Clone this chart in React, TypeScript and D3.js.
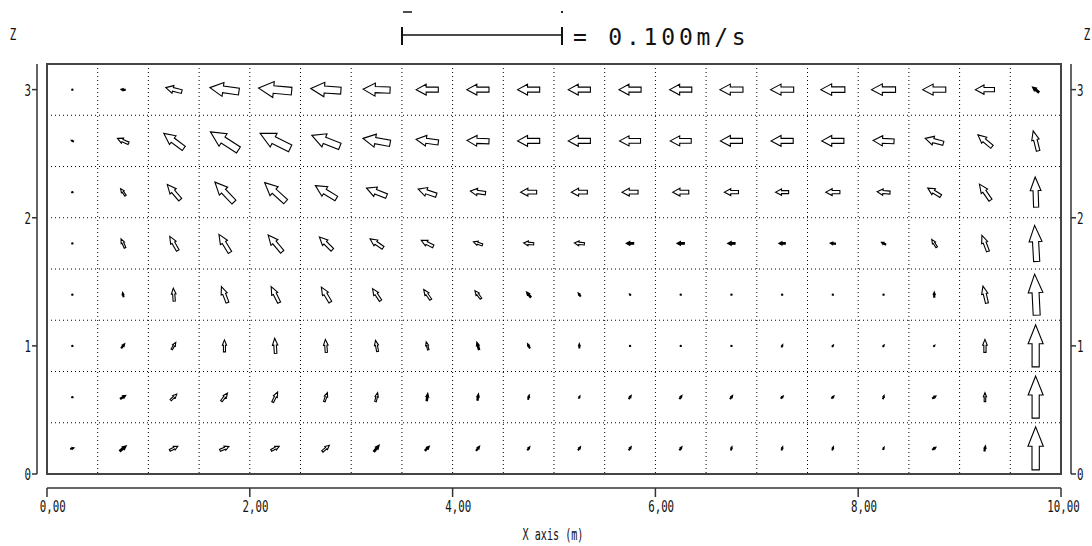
import React from "react";
import * as d3 from "d3";

// ---- data ----
const xCenters = [0.25, 0.75, 1.25, 1.75, 2.25, 2.75, 3.25, 3.75, 4.25, 4.75, 5.25, 5.75, 6.25, 6.75, 7.25, 7.75, 8.25, 8.75, 9.25, 9.75];
const zCenters = [3.0, 2.6, 2.2, 1.8, 1.4, 1.0, 0.6, 0.2];
const xGrid = [0.5, 1, 1.5, 2, 2.5, 3, 3.5, 4, 4.5, 5, 5.5, 6, 6.5, 7, 7.5, 8, 8.5, 9, 9.5];
const zGrid = [0.4, 0.8, 1.2, 1.6, 2.0, 2.4, 2.8];
const xTicks = [0, 2, 4, 6, 8, 10];
const xTickLabels = ["0,00", "2,00", "4,00", "6,00", "8,00", "10,00"];
const zTicks = [0, 1, 2, 3];
const zTickLabels = ["0", "1", "2", "3"];
const legendSpeed = 100; // mm/s
const legendLabel = "= 0.100m/s";

// horizontal velocity u (mm/s), rows from top (z=3.0) to bottom (z=0.2)
const uRow30 = [-0.6, -2.5, -10.0, -18.1, -20.6, -18.8, -16.9, -13.8, -13.8, -13.8, -13.8, -13.8, -13.8, -14.4, -14.4, -15.0, -15.0, -14.4, -11.9, -3.8];
const uRow26 = [-1.3, -6.9, -12.5, -17.5, -18.8, -17.5, -16.9, -13.8, -13.8, -13.8, -13.8, -13.1, -13.1, -13.8, -13.8, -13.8, -13.1, -11.3, -8.8, -3.1];
const uRow22 = [0, -3.1, -8.1, -11.9, -13.1, -13.1, -12.5, -11.3, -9.4, -10.0, -10.0, -10.0, -10.0, -8.8, -8.1, -8.8, -8.1, -8.1, -6.9, -0.6];
const uRow18 = [0, -2.5, -5.0, -6.9, -8.8, -8.1, -8.1, -7.5, -5.6, -6.3, -6.3, -4.4, -4.4, -4.4, -3.8, -3.1, -2.5, -3.1, -3.8, -1.3];
const uRow14 = [0, -0.6, -0.6, -3.8, -5.0, -5.6, -5.0, -4.4, -3.8, -2.5, -1.3, -0.6, 0, 0, 0, 0, 0, 0, -2.5, -1.3];
const uRow10 = [0, 1.9, 2.5, 0, -0.6, -0.6, -1.3, -1.3, -1.3, -1.3, 0, 0, 0, 0, 0.6, 0.6, 0.6, 0.6, 0, 0];
const uRow06 = [0, 3.1, 3.8, 3.8, 3.1, 1.9, 1.3, 0.6, 0.6, 0.6, 0.6, 1.3, 1.3, 1.3, 1.3, 1.3, 0.6, 1.9, 0, 0];
const uRow02 = [1.9, 3.8, 5.0, 5.6, 5.0, 4.4, 3.1, 2.5, 1.9, 1.3, 1.3, 1.3, 1.3, 0.6, 0.6, 0.6, 0.6, 1.9, 0.6, 0];

// vertical velocity w (mm/s)
const wRow30 = [0, 0.3, 2.5, 2.5, 1.9, 1.3, 0.6, 0, 0, 0, 0, 0, 0, 0, 0, 0, 0, 0, 0, 3.1];
const wRow26 = [0.6, 3.1, 9.4, 11.3, 9.4, 6.9, 3.1, 1.9, 0.6, 0, 0, 0, 0, 0, 0, 0, 0.6, 3.1, 7.5, 12.5];
const wRow22 = [-0.6, 4.4, 9.4, 12.5, 11.9, 8.1, 5.0, 3.8, 1.3, 0, 0, 0, 0, 0, 0, 0, 0.6, 5.0, 10.0, 18.8];
const wRow18 = [0.3, 5.6, 8.8, 11.3, 10.6, 8.1, 5.6, 3.8, 1.9, 0.6, 0.6, 0, 0, 0, 0, 0.3, 1.3, 5.0, 10.0, 22.5];
const wRow14 = [0.3, 2.5, 8.1, 10.0, 10.0, 9.4, 7.5, 6.3, 5.0, 3.1, 1.9, 0.6, 0.6, 0.6, 0.6, 0.6, 0.6, 3.1, 10.6, 25.6];
const wRow10 = [0.3, 2.5, 4.4, 7.5, 9.4, 8.1, 6.9, 5.0, 4.4, 2.5, 2.5, 0.6, 0.3, 0.3, 1.3, 0.9, 0.9, 0.6, 8.1, 26.3];
const wRow06 = [0, 1.9, 3.8, 5.0, 6.3, 5.6, 5.6, 4.4, 3.8, 2.5, 1.3, 1.9, 1.9, 1.9, 1.3, 1.3, 1.9, 1.3, 5.6, 26.3];
const wRow02 = [0.6, 3.1, 2.5, 2.5, 2.5, 3.8, 3.8, 2.5, 2.5, 1.9, 1.9, 1.9, 1.9, 1.9, 1.9, 1.9, 1.3, 1.3, 3.1, 26.9];

const uRows = [uRow30, uRow26, uRow22, uRow18, uRow14, uRow10, uRow06, uRow02];
const wRows = [wRow30, wRow26, wRow22, wRow18, wRow14, wRow10, wRow06, wRow02];

// ---- layout ----
const W = 1092;
const H = 546;
const x = d3.scaleLinear().domain([0, 10]).range([47, 1061]);
const z = d3.scaleLinear().domain([0, 3.2]).range([474, 64]);
const speed = d3.scaleLinear().domain([0, legendSpeed]).range([0, 160]);

const FONT = "DejaVu Sans Mono";
const SX = 0.675;

function arrowPath(cx: number, cy: number, vx: number, vy: number): string | null {
  const L = Math.hypot(vx, vy);
  if (L < 1.2) return null;
  const th = Math.atan2(vy, vx);
  const f = 1 + 0.15 * Math.cos(2 * th);
  const hl = 0.45 * L;
  const hw = (0.42 * L * f) / 2;
  const sw = (0.2 * L * f) / 2;
  const pts: [number, number][] = [
    [L / 2, 0],
    [L / 2 - hl, hw],
    [L / 2 - hl, sw],
    [-L / 2, sw],
    [-L / 2, -sw],
    [L / 2 - hl, -sw],
    [L / 2 - hl, -hw],
  ];
  const c = Math.cos(th);
  const s = Math.sin(th);
  const line = d3.line<[number, number]>()
    .x((p) => cx + p[0] * c - p[1] * s)
    .y((p) => cy + p[0] * s + p[1] * c);
  return line(pts) + "Z";
}

function T(props: { x: number; y: number; anchor?: string; size?: number; sx?: number; children: React.ReactNode }) {
  const { x: tx, y: ty, anchor = "start", size = 16, sx = SX, children } = props;
  return (
    <text
      transform={`translate(${tx},${ty}) scale(${sx},1)`}
      textAnchor={anchor}
      fontFamily={FONT}
      fontSize={size}
      fill="#111"
    >
      {children}
    </text>
  );
}

export default function App() {
  const charW = 16 * 0.602 * SX;
  const legendX0 = 402;
  const legendX1 = legendX0 + speed(legendSpeed);
  return (
    <svg width={W} height={H} style={{ position: "absolute", left: 0, top: 0, background: "#fff" }}>
      <rect x={0} y={0} width={W} height={H} fill="#fff" />

      {/* grid */}
      {xGrid.map((g, i) => (
        <line key={"gx" + i} x1={x(g)} x2={x(g)} y1={z(3.2)} y2={z(0)} stroke="#000" strokeWidth={1} strokeDasharray="1 3" />
      ))}
      {zGrid.map((g, i) => (
        <line key={"gz" + i} x1={x(0)} x2={x(10)} y1={z(g)} y2={z(g)} stroke="#000" strokeWidth={1} strokeDasharray="1 3" />
      ))}

      {/* box */}
      <rect x={x(0)} y={z(3.2)} width={x(10) - x(0)} height={z(0) - z(3.2)} fill="none" stroke="#444" strokeWidth={2} />

      {/* arrows */}
      {zCenters.map((zc, r) =>
        xCenters.map((xc, ci) => {
          const vx = speed(uRows[r][ci]);
          const vy = -speed(wRows[r][ci]);
          const cx = x(xc);
          const cy = z(zc);
          const d = arrowPath(cx, cy, vx, vy);
          const L = Math.hypot(vx, vy);
          if (!d) return <circle key={`a${r}-${ci}`} cx={cx} cy={cy} r={1.2} fill="#000" />;
          return (
            <path
              key={`a${r}-${ci}`}
              d={d}
              fill={L < 8 ? "#000" : "#fff"}
              stroke="#000"
              strokeWidth={L < 8 ? 1.3 : 1.1}
              strokeLinejoin="miter"
            />
          );
        })
      )}

      {/* left axis */}
      <line x1={37} x2={37} y1={z(3.2)} y2={z(0)} stroke="#333" strokeWidth={1.5} />
      {zTicks.map((t, i) => (
        <g key={"lz" + i}>
          <line x1={32} x2={37} y1={z(t)} y2={z(t)} stroke="#333" strokeWidth={1.5} />
          <T x={31} y={z(t) + 6} anchor="end">{zTickLabels[i]}</T>
        </g>
      ))}
      {/* right axis */}
      <line x1={1071} x2={1071} y1={z(3.2)} y2={z(0)} stroke="#333" strokeWidth={1.5} />
      {zTicks.map((t, i) => (
        <g key={"rz" + i}>
          <line x1={1071} x2={1076} y1={z(t)} y2={z(t)} stroke="#333" strokeWidth={1.5} />
          <T x={1077} y={z(t) + 6}>{zTickLabels[i]}</T>
        </g>
      ))}
      <T x={13} y={40} anchor="middle">Z</T>
      <T x={1087} y={40} anchor="middle">Z</T>

      {/* bottom axis */}
      <line x1={x(0)} x2={x(10)} y1={488} y2={488} stroke="#333" strokeWidth={1.5} />
      {xTicks.map((t, i) => {
        const lab = xTickLabels[i];
        const nInt = lab.indexOf(",");
        const sx0 = x(t) + 2.5 - (nInt * charW + charW / 2);
        return (
          <g key={"bx" + i}>
            <line x1={x(t)} x2={x(t)} y1={488} y2={497} stroke="#333" strokeWidth={1.5} />
            <T x={sx0} y={512}>{lab}</T>
          </g>
        );
      })}
      <T x={553} y={540} anchor="middle" size={15}>X axis (m)</T>

      {/* legend */}
      <line x1={403} x2={412} y1={12} y2={12} stroke="#222" strokeWidth={1.6} />
      <rect x={561} y={11} width={2} height={2} fill="#222" />
      <line x1={legendX0} x2={legendX1} y1={35} y2={35} stroke="#111" strokeWidth={1.5} />
      <line x1={legendX0} x2={legendX0} y1={27} y2={45} stroke="#111" strokeWidth={2} />
      <line x1={legendX1} x2={legendX1} y1={27} y2={45} stroke="#111" strokeWidth={2} />
      <text x={573} y={45} fontFamily={FONT} fontSize={23} letterSpacing={3.8} fill="#111">
        {legendLabel}
      </text>
    </svg>
  );
}
